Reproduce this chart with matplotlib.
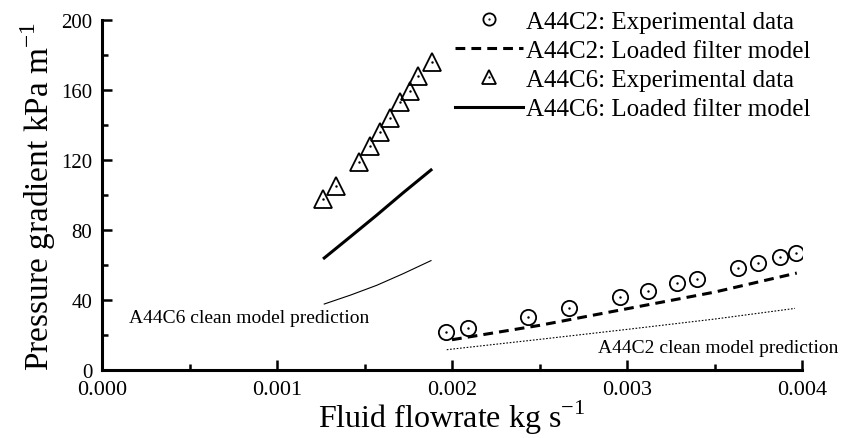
import matplotlib
matplotlib.use('Agg')
import matplotlib.pyplot as plt
from matplotlib.ticker import MultipleLocator, FormatStrFormatter
from matplotlib.legend_handler import HandlerTuple

plt.rcParams['font.family'] = ['Liberation Serif', 'DejaVu Serif']
plt.rcParams['mathtext.fontset'] = 'custom'
plt.rcParams['mathtext.rm'] = 'Liberation Serif'

# A44C2 experimental data
c2_x = [0.001964, 0.002093, 0.002436, 0.00267, 0.00296, 0.003118,
        0.003288, 0.003398, 0.003636, 0.00375, 0.003876, 0.003964]
c2_y = [21.5, 23.8, 30.1, 35.2, 41.5, 45.3, 49.7, 52.0, 58.3, 61.1, 64.4, 66.9]

# A44C6 experimental data
c6_x = [0.001265, 0.001337, 0.001469, 0.001531, 0.001589,
        0.001646, 0.001703, 0.00176, 0.001808, 0.001888]
c6_y = [97.7, 105.3, 118.7, 127.8, 135.8, 143.8, 153.0, 159.6, 168.2, 176.2]

# models
c2_model_x = [0.002, 0.0025, 0.003, 0.0035, 0.00397]
c2_loaded_y = [17.3, 25.5, 35.0, 44.5, 55.4]
c2_clean_x = [0.00197, 0.0025, 0.003, 0.0035, 0.00396]
c2_clean_y = [11.6, 17.5, 23.2, 29.1, 35.2]

c6_model_x = [0.00127, 0.00142, 0.00157, 0.00172, 0.00188]
c6_loaded_y = [64.0, 76.2, 88.5, 101.2, 114.3]
c6_clean_y = [37.7, 42.8, 48.4, 55.0, 62.5]

fig = plt.figure(figsize=(8.41, 4.39), dpi=100)
ax = fig.add_axes([102/841, 68/439, 700/841, 350/439])

ax.plot(c6_model_x, c6_clean_y, color='black', lw=0.8)
ax.plot(c2_clean_x, c2_clean_y, color='black', lw=0.8, ls=(0, (1.5, 1.5)))
l2, = ax.plot(c2_model_x, c2_loaded_y, color='black', lw=2.2, ls=(0, (3.2, 2.0)))
l6, = ax.plot(c6_model_x, c6_loaded_y, color='black', lw=2.2)

m2, = ax.plot(c2_x, c2_y, ls='none', marker='o', ms=11, mfc='none', mec='black', mew=1.3)
d2, = ax.plot(c2_x, c2_y, ls='none', marker='.', ms=1.5, color='black')
m6, = ax.plot(c6_x, c6_y, ls='none', marker='^', ms=13, mfc='none', mec='black', mew=1.3)
d6, = ax.plot(c6_x, c6_y, ls='none', marker='.', ms=1.5, color='black')

ax.text(0.000154, 27.4, 'A44C6 clean model prediction', fontsize=14, va='baseline')
ax.text(0.002834, 10.5, 'A44C2 clean model prediction', fontsize=14, va='baseline')

ax.set_xlim(0, 0.004)
ax.set_ylim(0, 200)
ax.xaxis.set_major_locator(MultipleLocator(0.001))
ax.xaxis.set_minor_locator(MultipleLocator(0.0005))
ax.xaxis.set_major_formatter(FormatStrFormatter('%.3f'))
ax.yaxis.set_major_locator(MultipleLocator(40))
ax.yaxis.set_minor_locator(MultipleLocator(20))

for s in ['top', 'right']:
    ax.spines[s].set_visible(False)
for s in ['left', 'bottom']:
    ax.spines[s].set_linewidth(2.2)
ax.tick_params(which='major', direction='in', length=7, width=1.8, pad=7)
ax.tick_params(which='minor', direction='in', length=4, width=1.8)
ax.tick_params(axis='x', labelsize=16, pad=7)
ax.tick_params(axis='y', labelsize=15)

ax.set_xlabel(r'Fluid flowrate kg s$^{\mathregular{-1}}$', fontsize=23, labelpad=-1)
ax.set_ylabel(r'Pressure gradient kPa m$^{\mathregular{-1}}$', fontsize=24, labelpad=2)

leg = ax.legend([(m2, d2), l2, (m6, d6), l6],
                ['A44C2: Experimental data', 'A44C2: Loaded filter model',
                 'A44C6: Experimental data', 'A44C6: Loaded filter model'],
                handler_map={tuple: HandlerTuple(ndivide=1)},
                loc='upper left', bbox_to_anchor=(455/841, 1 - 11/439),
                bbox_transform=fig.transFigure, frameon=False, fontsize=18,
                handlelength=2.7, handletextpad=0.15, labelspacing=0.27,
                markerscale=0.8, borderpad=0, borderaxespad=0)

fig.savefig('out.png', dpi=100)
